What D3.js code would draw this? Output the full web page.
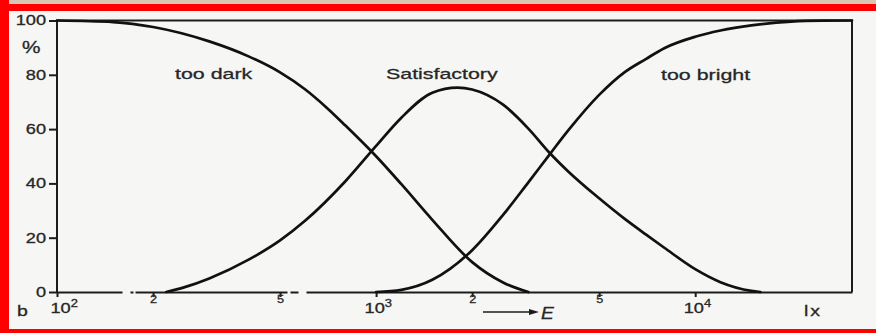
<!DOCTYPE html>
<html>
<head>
<meta charset="utf-8">
<script src="https://cdn.jsdelivr.net/npm/d3@7"></script>
<style>
  body { margin: 0; background: #fff; }
  svg { display: block; }
  text { font-family: "Liberation Sans", Arial, Helvetica, sans-serif; fill: #262626; }
</style>
</head>
<body>
<script>
// Illuminance E (lux), with the % of judgements for each curve
var luxDark = [100, 150, 200, 300, 400, 500, 600, 700, 800, 1000, 1200, 1500, 2000, 2500, 3000];
var tooDark = [100, 99.4, 97.6, 92.3, 86.7, 80.9, 74.6, 67.9, 61.4, 50, 39.7, 26.6, 11, 3.5, 0];

var luxSat = [220, 250, 300, 400, 500, 600, 800, 1000, 1200, 1500, 1800, 2000, 2500, 3000, 3500, 4000, 5000, 6000, 7000, 8000, 10000, 12000, 15000, 16000];
var satisfactory = [0, 1.7, 5, 12, 19, 26.3, 40.7, 53.8, 64.2, 73.4, 75.3, 74.6, 69, 60.2, 51.2, 44.4, 34.5, 27, 21.2, 16.3, 8.4, 3.6, 0.4, 0];

var luxBright = [1000, 1200, 1500, 2000, 2500, 3000, 3500, 4000, 5000, 6000, 7000, 8000, 10000, 12000, 15000, 20000, 25000, 31000];
var tooBright = [0, 0.8, 4.5, 15.4, 28.4, 40.4, 50.7, 59.5, 72.6, 80.9, 85.8, 89.8, 94, 96.3, 98.2, 99.6, 99.95, 100];

var curveNames = ["too dark", "Satisfactory", "too bright"];

var yTicks = [0, 20, 40, 60, 80, 100];
var xTicks = [100, 200, 500, 1000, 2000, 5000, 10000];
var xTickLabels = ["10", "2", "5", "10", "2", "5", "10"];
var xTickExp = ["2", "", "", "3", "", "", "4"];

var svgWidth = 876;
var svgHeight = 333;

var svg = d3.select("body").append("svg").attr("width", svgWidth).attr("height", svgHeight);

// paper + red border of the scan
svg.append("rect").attr("width", svgWidth).attr("height", svgHeight).attr("fill", "#f6f6f4");
svg.append("rect").attr("width", svgWidth).attr("height", 4).attr("fill", "#d9c6b2");
svg.append("rect").attr("y", 4).attr("width", svgWidth).attr("height", 7).attr("fill", "#ff0000");
svg.append("rect").attr("width", 9).attr("height", svgHeight).attr("fill", "#ff0000");
svg.append("rect").attr("y", 329).attr("width", svgWidth).attr("height", 4).attr("fill", "#ff0000");

// scales
var x = d3.scaleLog().domain([100, 31000]).range([57, 852]);
var y = d3.scaleLinear().domain([0, 100]).range([292, 20.5]);

// stretched text helper (the print type is wide)
function wideText(str, px, py, size, sx) {
  return svg.append("text")
    .attr("transform", `translate(${px},${py}) scale(${sx},1)`)
    .attr("font-size", size)
    .attr("stroke", "#2a2a2a")
    .attr("stroke-width", 0.3)
    .text(str);
}

// frame: left, top, right
svg.append("path")
  .attr("d", `M${x(100)},${y(0)}V${y(100)}H${x(31000)}V${y(0)}`)
  .attr("fill", "none")
  .attr("stroke", "#1c1c1c")
  .attr("stroke-width", 2);

// x axis (baseline has a couple of breaks in the print)
var bottomAxis = d3.axisBottom(x).tickValues(xTicks).tickSize(5).tickSizeOuter(0).tickFormat("");
var xg = svg.append("g").attr("transform", `translate(0,${y(0)})`).call(bottomAxis);
xg.select(".domain")
  .attr("stroke", "#1c1c1c")
  .attr("stroke-width", 2)
  .attr("stroke-dasharray", "65,8,3,2,152,3,8,8,1000");
xg.selectAll(".tick line").attr("stroke", "#1c1c1c").attr("stroke-width", 2);

xg.selectAll(".tick").each(function(d, i) {
  var t = d3.select(this).append("text")
    .attr("fill", "#262626")
    .attr("stroke", "#2a2a2a")
    .attr("stroke-width", 0.3);
  if (xTickExp[i]) {
    var shift = i === 0 ? -7 : -12;
    t.attr("transform", "scale(1.3,1)")
      .attr("x", shift / 1.3)
      .attr("y", 21)
      .attr("text-anchor", "start");
    t.append("tspan").attr("font-size", 14).text(xTickLabels[i]);
    t.append("tspan").attr("font-size", 10).attr("dy", -6).text(xTickExp[i]);
  } else {
    t.attr("transform", "scale(1.15,1)")
      .attr("x", 0)
      .attr("y", 11.5)
      .attr("text-anchor", "middle")
      .attr("font-size", 11)
      .text(xTickLabels[i]);
  }
});

// y axis
var leftAxis = d3.axisLeft(y).tickValues(yTicks).tickSize(8).tickPadding(3);
var yg = svg.append("g").attr("transform", `translate(${x(100)},0)`).call(leftAxis);
yg.select(".domain").remove();
yg.selectAll(".tick line").attr("stroke", "#1c1c1c").attr("stroke-width", 2);
yg.selectAll(".tick text")
  .attr("font-size", 14)
  .attr("fill", "#222")
  .attr("stroke", "#2a2a2a")
  .attr("stroke-width", 0.3)
  .attr("transform", "scale(1.3,1)")
  .attr("x", -11 / 1.3);

// curves
var series = [d3.zip(luxDark, tooDark), d3.zip(luxSat, satisfactory), d3.zip(luxBright, tooBright)];
var line = d3.line()
  .x(d => x(d[0]))
  .y(d => y(d[1]))
  .curve(d3.curveMonotoneX);

svg.selectAll("path.curve")
  .data(series)
  .enter()
  .append("path")
  .attr("class", "curve")
  .attr("d", line)
  .attr("fill", "none")
  .attr("stroke", "#111")
  .attr("stroke-width", 2.7)
  .attr("stroke-linecap", "round");

// curve names
wideText(curveNames[0], 175, 79, 15.5, 1.38).attr("fill", "#333");
wideText(curveNames[1], 386, 79, 15.5, 1.38).attr("fill", "#333");
wideText(curveNames[2], 661, 80, 15.5, 1.38).attr("fill", "#333");

// axis captions
wideText("%", 22, 53, 16, 1.3);
wideText("b", 17, 316, 15, 1.3);
wideText("lx", 804, 316, 15, 1.3).attr("letter-spacing", 1.5);

// -> E
svg.append("defs").append("marker")
  .attr("id", "arrow")
  .attr("viewBox", "0 0 10 6")
  .attr("refX", 0)
  .attr("refY", 3)
  .attr("markerUnits", "userSpaceOnUse")
  .attr("markerWidth", 11)
  .attr("markerHeight", 6)
  .attr("orient", "auto")
  .append("path")
  .attr("d", "M0,0L10,3L0,6Z")
  .attr("fill", "#1c1c1c");

svg.append("line")
  .attr("x1", 483).attr("y1", 312)
  .attr("x2", 529).attr("y2", 312)
  .attr("stroke", "#1c1c1c")
  .attr("stroke-width", 1.6)
  .attr("marker-end", "url(#arrow)");

wideText("E", 541, 319, 16, 1.2).attr("font-style", "italic");
</script>
</body>
</html>
